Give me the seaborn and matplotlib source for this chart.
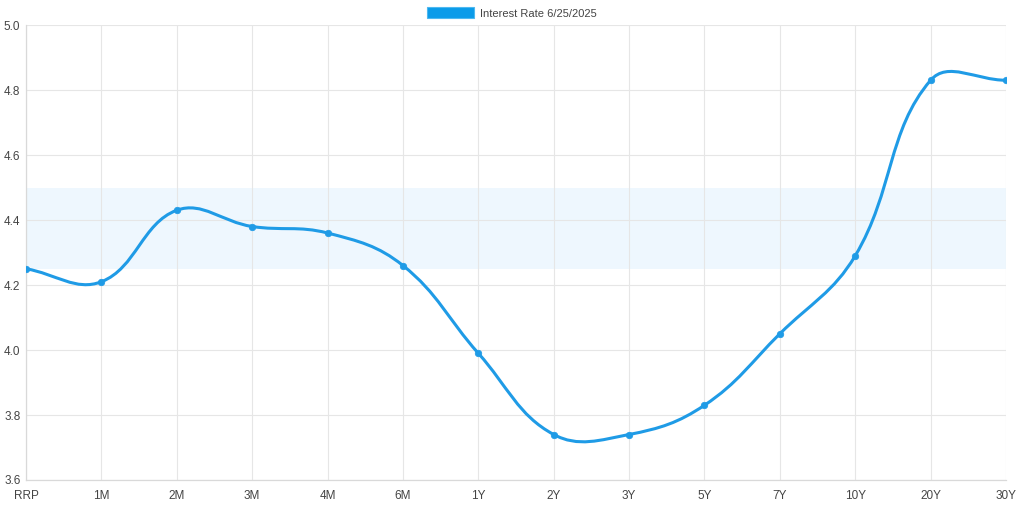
import numpy as np
import matplotlib
matplotlib.use("Agg")
import matplotlib.pyplot as plt
import seaborn as sns
from matplotlib.path import Path
from matplotlib.patches import PathPatch, Patch

# ------------------ data ------------------
tenors = ["RRP", "1M", "2M", "3M", "4M", "6M", "1Y", "2Y", "3Y", "5Y", "7Y", "10Y", "20Y", "30Y"]
rates = [4.25, 4.21, 4.43, 4.38, 4.36, 4.26, 3.99, 3.74, 3.74, 3.83, 4.05, 4.29, 4.83, 4.83]
band_low, band_high = 4.25, 4.50
series_label = "Interest Rate 6/25/2025"

line_color = "#1f9be6"
grid_color = "#e6e6e6"
text_color = "#444444"

sns.set_style("white")
plt.rcParams["font.family"] = ["Liberation Sans", "DejaVu Sans"]

fig = plt.figure(figsize=(10.24, 5.05), dpi=100)
ax = fig.add_axes([26 / 1024, 25 / 505, 980 / 1024, 455 / 505])

x = np.arange(len(tenors))
ax.set_xlim(0, len(tenors) - 1)
ax.set_ylim(3.6, 5.0)

# target band
ax.axhspan(band_low, band_high, color="#eef7fe", zorder=0, lw=0)

# ------------------ smooth line (chart.js style bezier, tension 0.4) ------------------
fig.canvas.draw()
pts = ax.transData.transform(np.column_stack([x, rates]))
tension = 0.4
n = len(pts)
cp_prev = pts.copy()
cp_next = pts.copy()
for i in range(n):
    prev = pts[max(i - 1, 0)]
    cur = pts[i]
    nxt = pts[min(i + 1, n - 1)]
    d01 = np.hypot(*(cur - prev))
    d12 = np.hypot(*(nxt - cur))
    tot = d01 + d12
    s01 = d01 / tot if tot else 0
    s12 = d12 / tot if tot else 0
    cp_prev[i] = cur - tension * s01 * (nxt - prev)
    cp_next[i] = cur + tension * s12 * (nxt - prev)

inv = ax.transData.inverted()
verts = [inv.transform(pts[0])]
codes = [Path.MOVETO]
for i in range(n - 1):
    verts += [inv.transform(cp_next[i]), inv.transform(cp_prev[i + 1]), inv.transform(pts[i + 1])]
    codes += [Path.CURVE4] * 3
ax.add_patch(PathPatch(Path(verts, codes), fill=False, edgecolor=line_color, lw=2.2,
                       capstyle="round", joinstyle="round", zorder=3))

sns.scatterplot(x=x, y=rates, ax=ax, color=line_color, s=22, edgecolor=line_color,
                linewidth=0.5, zorder=4, legend=False)

# ------------------ axes styling ------------------
ax.set_xticks(x)
ax.set_xticklabels(tenors)
ax.set_yticks(np.arange(3.6, 5.01, 0.2))
ax.set_yticklabels([f"{v:.1f}" for v in np.arange(3.6, 5.01, 0.2)])
ax.grid(True, color=grid_color, lw=0.8)
ax.set_axisbelow(True)
for side in ["top", "right"]:
    ax.spines[side].set_visible(False)
for side in ["left", "bottom"]:
    ax.spines[side].set_color("#d9d9d9")
    ax.spines[side].set_linewidth(0.9)
ax.tick_params(axis="both", colors=text_color, labelsize=8.5, width=0.8, color=grid_color)
ax.tick_params(axis="y", length=0, pad=4)
ax.tick_params(axis="x", length=4, pad=3)
ax.set_xlabel("")
ax.set_ylabel("")

handle = Patch(facecolor="#0a9be9", edgecolor="#4db8f0", lw=0.8)
fig.legend([handle], [series_label], loc="upper center", bbox_to_anchor=(0.5, 1.005),
           frameon=False, fontsize=8, handlelength=4.2, handleheight=1.1,
           handletextpad=0.6, labelcolor=text_color)

fig.savefig("out.png", dpi=100, facecolor="white")
